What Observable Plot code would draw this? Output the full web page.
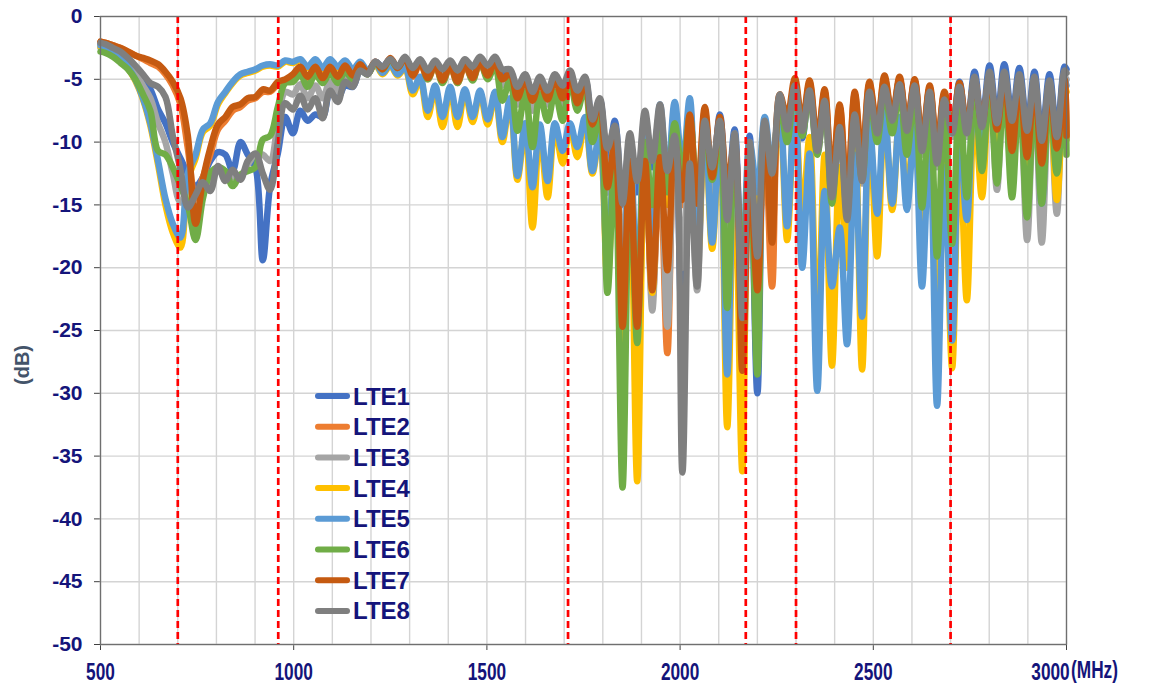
<!DOCTYPE html>
<html><head><meta charset="utf-8">
<script src="https://cdn.jsdelivr.net/npm/d3@7"></script>
<script src="https://cdn.jsdelivr.net/npm/@observablehq/plot@0.6"></script>
<style>body{margin:0;background:#fff}</style>
</head><body><div id="chart"></div>
<script>
// Frequency samples (MHz)
const freq = [500,513,532,552,571,590,610,629,649,668,
687,707,726,746,765,784,804,823,842,862,
881,901,920,939,959,978,998,1017,1036,1056,
1075,1094,1114,1133,1153,1172,1191,1211,1230,1250,
1269,1288,1308,1327,1347,1366,1385,1405,1424,1443,
1463,1482,1502,1521,1540,1560,1579,1599,1618,1637,
1657,1676,1696,1715,1734,1754,1773,1792,1812,1831,
1851,1870,1889,1909,1928,1948,1967,1986,2006,2025,
2044,2064,2083,2103,2122,2141,2161,2180,2200,2219,
2238,2258,2277,2297,2316,2335,2355,2374,2393,2413,
2432,2452,2471,2490,2510,2529,2549,2568,2587,2607,
2626,2646,2665,2684,2704,2723,2742,2762,2781,2801,
2820,2839,2859,2878,2898,2917,2936,2956,2975,2995,
3000];

const lte1 = [-2.2,-2.3,-2.5,-2.9,-3.5,-4.2,-5.0,-5.8,-7.4,-8.5,
-10.0,-11.3,-12.5,-13.5,-12.8,-11.5,-10.8,-11.0,-12.3,-10.0,
-11.0,-12.0,-19.4,-13.5,-10.9,-8.0,-9.3,-7.5,-8.3,-7.8,
-8.0,-6.0,-6.5,-5.5,-5.6,-4.3,-4.6,-3.6,-4.0,-3.4,
-4.1,-3.3,-4.2,-3.5,-4.5,-3.6,-4.5,-3.6,-4.5,-3.5,
-4.3,-3.4,-4.2,-3.4,-4.6,-4.4,-6.0,-4.8,-6.4,-5.0,
-6.3,-4.8,-6.0,-4.5,-6.2,-5.0,-8.5,-6.6,-12.0,-8.3,
-15.0,-10.0,-14.0,-8.0,-12.0,-7.5,-14.0,-8.5,-26.0,-10.0,
-16.0,-8.0,-13.0,-7.8,-15.0,-9.0,-22.0,-9.5,-30.0,-8.5,
-13.0,-6.5,-9.5,-5.3,-9.7,-5.6,-10.6,-6.4,-14.0,-8.5,
-15.8,-7.4,-12.8,-5.7,-9.0,-5.2,-8.0,-5.0,-8.8,-5.1,
-10.4,-5.7,-11.4,-6.2,-9.0,-5.2,-9.0,-4.4,-8.5,-3.9,
-8.2,-3.8,-8.0,-4.1,-8.8,-4.4,-9.6,-4.6,-9.3,-4.0,
-4.2];

const lte2 = [-2.0,-2.1,-2.3,-2.5,-2.8,-3.1,-3.4,-3.7,-4.0,-4.6,
-5.5,-7.0,-10.5,-14.5,-12.8,-11.0,-9.0,-8.3,-7.5,-7.2,
-6.7,-6.5,-6.0,-6.0,-5.4,-5.1,-4.8,-4.2,-4.9,-4.1,
-5.0,-4.1,-4.9,-4.0,-4.8,-3.9,-4.6,-3.7,-4.3,-3.4,
-4.2,-3.4,-4.8,-3.7,-5.0,-3.9,-5.2,-4.0,-5.3,-3.9,
-5.0,-3.7,-4.8,-3.7,-5.1,-4.6,-6.6,-5.1,-6.8,-5.3,
-6.7,-5.1,-6.6,-4.6,-7.0,-5.3,-8.8,-6.9,-14.0,-10.5,
-23.0,-11.0,-22.0,-10.5,-22.5,-12.0,-26.8,-10.5,-15.0,-8.0,
-15.5,-7.5,-13.5,-8.5,-27.0,-10.5,-26.0,-11.5,-20.0,-9.0,
-21.5,-6.8,-8.5,-5.2,-8.8,-5.3,-10.2,-6.0,-13.2,-7.2,
-14.7,-6.2,-11.7,-5.4,-9.0,-4.9,-8.2,-5.0,-8.8,-5.2,
-10.2,-5.7,-10.7,-6.2,-9.2,-5.5,-9.0,-5.2,-8.8,-5.0,
-9.2,-5.0,-10.9,-5.2,-11.4,-5.4,-11.9,-5.6,-10.7,-5.2,
-9.8];

const lte3 = [-2.5,-2.6,-2.9,-3.3,-3.8,-4.5,-5.5,-6.5,-8.5,-10.0,
-12.5,-14.8,-14.5,-15.5,-14.0,-13.0,-12.0,-12.8,-12.8,-12.8,
-11.8,-11.0,-11.0,-11.5,-8.5,-6.0,-6.2,-5.4,-6.5,-5.5,
-6.5,-5.2,-6.0,-4.8,-5.3,-4.3,-4.6,-3.7,-4.1,-3.4,
-4.1,-3.3,-4.2,-3.5,-4.5,-3.6,-4.6,-3.7,-4.7,-3.6,
-4.6,-3.4,-4.5,-3.5,-5.5,-4.6,-7.0,-5.2,-7.5,-5.4,
-7.0,-5.3,-7.0,-4.8,-6.5,-5.2,-9.0,-7.0,-14.0,-9.5,
-20.0,-10.0,-30.6,-9.0,-23.4,-8.5,-24.7,-9.5,-20.0,-10.0,
-21.8,-9.0,-14.0,-9.0,-18.0,-10.0,-30.9,-11.0,-24.2,-9.0,
-13.0,-7.0,-9.5,-5.8,-9.3,-6.0,-10.9,-6.9,-14.6,-8.9,
-16.4,-7.9,-13.3,-6.2,-9.5,-5.8,-8.6,-5.6,-9.4,-5.7,
-11.0,-6.2,-12.0,-6.8,-9.6,-5.8,-9.6,-5.0,-9.3,-4.6,
-13.8,-4.6,-12.0,-4.8,-17.8,-5.0,-18.0,-5.3,-15.7,-4.8,
-5.0];

const lte4 = [-2.4,-2.5,-2.8,-3.3,-4.1,-5.1,-6.6,-8.7,-11.8,-15.0,
-17.2,-18.4,-13.0,-11.3,-9.2,-8.7,-7.0,-6.1,-5.3,-4.7,
-4.5,-4.3,-4.0,-3.9,-4.0,-3.6,-3.7,-3.5,-4.1,-3.5,
-4.2,-3.5,-4.1,-3.6,-4.3,-3.7,-4.4,-3.8,-4.6,-3.9,
-4.7,-4.1,-6.2,-5.0,-8.0,-5.7,-8.8,-5.8,-8.8,-6.0,
-8.4,-6.1,-8.6,-6.2,-10.0,-6.8,-13.0,-8.8,-16.8,-9.0,
-14.4,-8.8,-11.7,-8.7,-11.2,-8.3,-12.5,-9.5,-21.0,-10.5,
-26.0,-11.0,-37.0,-9.5,-22.0,-8.0,-15.0,-7.5,-13.0,-7.2,
-20.0,-8.5,-18.5,-9.0,-32.7,-10.0,-36.2,-10.5,-15.0,-8.5,
-12.5,-8.0,-17.8,-7.0,-16.0,-9.6,-26.0,-11.0,-27.8,-12.0,
-20.0,-9.0,-28.1,-8.0,-19.1,-7.6,-15.4,-8.0,-14.0,-8.5,
-18.0,-9.0,-26.0,-11.0,-28.0,-9.5,-22.6,-7.0,-14.4,-5.8,
-10.0,-5.3,-10.0,-5.5,-12.0,-5.6,-12.0,-5.8,-14.6,-5.5,
-6.0];

const lte5 = [-2.3,-2.4,-2.7,-3.2,-4.0,-5.0,-6.5,-8.5,-11.5,-14.5,
-16.5,-17.6,-12.5,-11.0,-9.0,-8.5,-6.8,-6.0,-5.2,-4.6,
-4.4,-4.2,-3.9,-3.8,-3.9,-3.5,-3.6,-3.4,-4.0,-3.4,
-4.1,-3.4,-4.0,-3.5,-4.2,-3.6,-4.3,-3.7,-4.5,-3.8,
-4.6,-4.0,-5.9,-4.8,-7.5,-5.5,-8.0,-5.6,-8.0,-5.8,
-8.0,-5.9,-8.2,-6.0,-9.6,-6.5,-12.7,-8.5,-13.6,-8.6,
-13.1,-8.5,-10.7,-8.5,-10.4,-8.0,-12.3,-9.0,-20.0,-10.0,
-24.0,-9.5,-22.0,-8.5,-18.0,-7.0,-13.0,-6.8,-12.0,-6.5,
-18.0,-8.0,-18.0,-8.5,-28.5,-9.3,-20.0,-10.0,-14.0,-8.0,
-12.0,-7.5,-16.7,-6.5,-20.0,-10.9,-29.8,-13.9,-21.5,-16.8,
-26.1,-11.0,-23.9,-8.5,-15.7,-7.5,-14.9,-8.0,-15.4,-8.5,
-21.5,-9.0,-31.0,-12.0,-25.8,-9.0,-16.2,-6.5,-10.0,-5.5,
-9.0,-5.0,-9.0,-5.2,-10.0,-5.3,-14.9,-5.5,-10.0,-5.0,
-5.5];

const lte6 = [-2.8,-2.9,-3.2,-3.7,-4.2,-5.0,-6.2,-7.5,-10.7,-11.0,
-12.0,-13.5,-15.0,-17.8,-14.5,-12.5,-12.0,-12.3,-13.5,-12.6,
-12.3,-12.0,-9.8,-9.5,-7.2,-5.3,-5.2,-4.6,-5.6,-4.6,
-5.3,-4.5,-5.3,-4.4,-5.0,-4.2,-4.6,-3.7,-4.2,-3.4,
-4.1,-3.3,-4.3,-3.5,-5.0,-3.7,-5.3,-3.8,-5.3,-3.6,
-5.1,-3.5,-5.0,-3.9,-6.7,-5.0,-9.1,-6.0,-10.4,-6.2,
-8.3,-6.0,-8.3,-5.0,-7.5,-5.5,-10.0,-8.0,-22.0,-10.5,
-37.5,-12.0,-26.0,-10.0,-15.0,-9.0,-14.0,-8.5,-12.5,-8.0,
-14.0,-9.0,-13.0,-9.5,-23.2,-11.0,-20.0,-10.5,-28.5,-9.0,
-12.0,-7.0,-10.0,-5.5,-9.5,-6.0,-11.0,-6.8,-14.9,-8.5,
-15.5,-7.5,-13.0,-6.3,-10.0,-5.8,-9.3,-5.7,-11.0,-6.0,
-15.2,-6.5,-19.1,-7.0,-18.1,-6.3,-14.4,-5.8,-12.3,-5.5,
-13.3,-5.5,-14.4,-5.8,-16.0,-6.0,-14.9,-6.2,-12.5,-5.8,
-11.0];

const lte7 = [-2.0,-2.1,-2.3,-2.5,-2.8,-3.1,-3.3,-3.5,-3.8,-4.4,
-5.2,-6.5,-9.5,-16.5,-13.0,-10.5,-8.6,-8.0,-7.2,-7.0,
-6.5,-6.4,-5.8,-5.9,-5.2,-5.0,-4.6,-4.0,-4.8,-4.0,
-4.9,-4.0,-4.8,-3.9,-4.7,-3.8,-4.5,-3.6,-4.2,-3.3,
-4.1,-3.3,-4.7,-3.6,-4.9,-3.8,-5.1,-3.9,-5.2,-3.8,
-4.9,-3.6,-4.7,-3.6,-5.0,-4.5,-6.5,-5.0,-6.7,-5.2,
-6.6,-5.0,-6.5,-4.5,-6.9,-5.2,-8.6,-6.7,-13.6,-10.0,
-24.7,-11.5,-24.7,-11.5,-21.8,-11.2,-20.2,-10.0,-14.6,-7.8,
-14.9,-7.2,-12.8,-8.0,-13.5,-10.0,-28.2,-12.0,-21.8,-8.5,
-18.0,-6.2,-8.0,-4.9,-8.5,-5.1,-10.0,-5.8,-13.0,-7.0,
-14.5,-6.0,-11.5,-5.2,-8.8,-4.7,-8.0,-4.8,-8.6,-5.0,
-10.0,-5.5,-10.5,-6.0,-9.0,-5.3,-8.8,-5.0,-8.6,-4.8,
-9.0,-4.8,-10.7,-5.0,-11.2,-5.2,-11.7,-5.4,-10.5,-5.0,
-9.5];

const lte8 = [-2.1,-2.2,-2.5,-2.8,-3.3,-3.9,-4.6,-5.3,-5.6,-6.4,
-9.5,-12.2,-15.2,-14.2,-13.2,-13.9,-11.9,-13.1,-12.2,-13.0,
-11.5,-10.9,-12.5,-13.8,-10.0,-6.9,-7.4,-6.3,-7.4,-6.5,
-8.1,-5.9,-6.8,-5.2,-5.6,-4.3,-4.6,-3.6,-4.0,-3.4,
-4.0,-3.2,-4.1,-3.4,-4.3,-3.5,-4.2,-3.5,-4.3,-3.4,
-4.0,-3.2,-3.9,-3.2,-4.2,-4.2,-5.6,-4.6,-6.0,-4.8,
-5.9,-4.6,-5.5,-4.3,-5.9,-4.8,-8.2,-6.5,-10.5,-8.7,
-14.9,-9.3,-13.1,-7.5,-11.5,-7.0,-12.3,-9.5,-36.3,-11.7,
-21.5,-8.3,-12.0,-8.3,-16.2,-9.3,-24.0,-10.0,-19.1,-8.3,
-12.5,-6.2,-9.0,-5.5,-9.1,-5.9,-10.7,-6.7,-14.4,-8.8,
-16.2,-7.8,-13.1,-6.0,-9.3,-5.6,-8.3,-5.4,-9.1,-5.5,
-10.7,-6.0,-11.7,-6.6,-9.3,-5.6,-9.3,-4.8,-8.8,-4.4,
-8.5,-4.4,-8.3,-4.6,-9.1,-4.8,-9.9,-5.1,-9.6,-4.3,
-4.5];

const seriesNames = ["LTE1","LTE2","LTE3","LTE4","LTE5","LTE6","LTE7","LTE8"];
const seriesValues = [lte1, lte2, lte3, lte4, lte5, lte6, lte7, lte8];
const seriesColors = ["#4472C4","#ED7D31","#A5A5A5","#FFC000","#5B9BD5","#70AD47","#C55A11","#7F7F7F"];

const bandEdges = [700, 960, 1710, 2170, 2300, 2700];
const xTicks = [500, 1000, 1500, 2000, 2500, 3000];
const xGrid = [500,600,700,800,900,1000,1100,1200,1300,1400,1500,1600,1700,1800,1900,2000,2100,2200,2300,2400,2500,2600,2700,2800,2900,3000];
const yTicks = [0,-5,-10,-15,-20,-25,-30,-35,-40,-45,-50];

const rows = seriesNames.flatMap((name, k) => freq.map((f, i) => ({series: name, f, v: seriesValues[k][i]})));

const NAVY = "#14147a";

const lineMarks = seriesNames.map((name, k) =>
  Plot.line(rows.filter(d => d.series === name), {
    x: "f", y: "v", stroke: seriesColors[k], strokeWidth: 6.5,
    curve: "catmull-rom", strokeLinejoin: "round", strokeLinecap: "round"
  })
);

const chart = Plot.plot({
  width: 1153, height: 686,
  marginLeft: 100, marginRight: 87, marginTop: 16, marginBottom: 42,
  style: {background: "#fff"},
  x: {domain: [500, 3000], ticks: xTicks, tickSize: 6, tickPadding: 12, label: null, tickFormat: d => String(d)},
  y: {domain: [-50, 0], ticks: yTicks, tickSize: 6, tickPadding: 12, label: null, tickFormat: d => String(d)},
  marks: [
    Plot.ruleX(xGrid, {stroke: "#d4d4d4", strokeWidth: 1.4}),
    Plot.ruleY(yTicks, {stroke: "#d4d4d4", strokeWidth: 1.4}),
    ...lineMarks,
    Plot.ruleX(bandEdges, {stroke: "#ff0000", strokeWidth: 2.7, strokeDasharray: "7,4"}),
    Plot.frame({stroke: "#6f6f6f", strokeWidth: 1.3})
  ]
});

document.getElementById("chart").appendChild(chart);

const svg = d3.select(chart);
svg.selectAll('g[aria-label="y-axis tick label"]')
  .attr("font-size", 21).attr("font-weight", "bold").attr("fill", NAVY)
  .attr("font-family", "'Liberation Sans', Arial, sans-serif");
const xLab = svg.selectAll('g[aria-label="x-axis tick label"]')
  .attr("font-size", 24).attr("font-weight", "bold").attr("fill", NAVY)
  .attr("font-family", "'Liberation Sans', Arial, sans-serif");
// condense the x tick labels horizontally (narrow bold face)
const xTexts = xLab.selectAll("text").nodes();
xTexts.forEach((t, i) => {
  const tr = t.getAttribute("transform") || "";
  const shift = (i === xTexts.length - 1) ? " translate(-16,0)" : "";
  t.setAttribute("transform", tr + shift + " scale(0.72,1)");
});
svg.selectAll('g[aria-label="y-axis tick"], g[aria-label="x-axis tick"]')
  .attr("stroke", "#404040");

// axis titles
svg.append("text")
  .attr("transform", "translate(29,365) rotate(-90)")
  .attr("text-anchor", "middle")
  .attr("font-family", "'Liberation Sans', Arial, sans-serif")
  .attr("font-size", 20).attr("font-weight", "bold").attr("fill", "#44546A")
  .text("(dB)");
svg.append("text")
  .attr("transform", "translate(1071,678) scale(0.72,1)")
  .attr("text-anchor", "start")
  .attr("font-family", "'Liberation Sans', Arial, sans-serif")
  .attr("font-size", 24).attr("font-weight", "bold").attr("fill", NAVY)
  .text("(MHz)");

// legend
const lg = svg.append("g").attr("text-anchor", "start");
seriesNames.forEach((name, k) => {
  const cy = 396 + k * 30.7;
  lg.append("line").attr("x1", 318).attr("x2", 347).attr("y1", cy).attr("y2", cy)
    .attr("stroke", seriesColors[k]).attr("stroke-width", 6).attr("stroke-linecap", "round");
  lg.append("text").attr("x", 353).attr("y", cy + 8.5)
    .attr("text-anchor", "start")
    .attr("font-family", "'Liberation Sans', Arial, sans-serif")
    .attr("font-size", 24).attr("font-weight", "bold").attr("fill", NAVY)
    .text(name);
});
</script></body></html>
